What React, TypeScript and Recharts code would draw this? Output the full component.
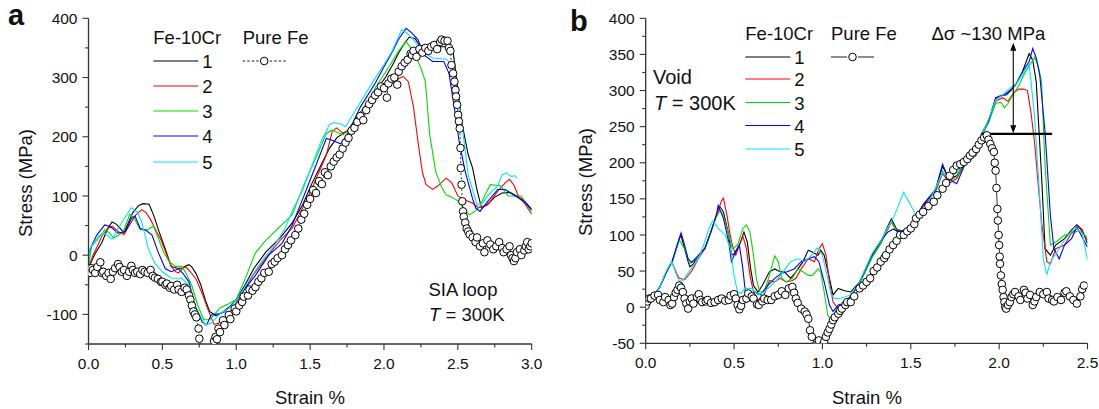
import { LineChart, Line, XAxis, YAxis, ReferenceLine, ReferenceDot } from "recharts";

type Pt = [number, number];

// ---- panel a : SIA loop, strain % vs stress (MPa) ----
const aFeCr1: Pt[] = [[0,-25],[0.02,-10],[0.05,5],[0.09,21],[0.13,45],[0.16,56],[0.19,52],[0.24,38],[0.27,55],[0.30,72],[0.34,84],[0.37,87],[0.41,86],[0.44,68],[0.48,38],[0.52,10],[0.56,-19],[0.60,-22],[0.63,-22],[0.66,-18],[0.68,-16],[0.70,-20],[0.73,-32],[0.76,-50],[0.79,-75],[0.82,-95],[0.86,-102],[0.90,-98],[0.95,-88],[1.0,-75],[1.06,-50],[1.12,-22],[1.2,5],[1.3,30],[1.38,55],[1.45,85],[1.51,120],[1.57,150],[1.63,180],[1.68,198],[1.72,205],[1.76,210],[1.82,232],[1.89,258],[1.95,280],[2.01,300],[2.06,322],[2.10,342],[2.14,358],[2.17,368],[2.21,366],[2.24,355],[2.28,352],[2.33,350],[2.38,352],[2.43,352],[2.47,340],[2.50,280],[2.53,220],[2.57,170],[2.60,147],[2.63,110],[2.66,80],[2.70,85],[2.75,98],[2.80,105],[2.85,106],[2.90,100],[2.95,92],[3.0,77]];
const aFeCr2: Pt[] = [[0,-22],[0.03,0],[0.06,15],[0.09,32],[0.13,45],[0.16,49],[0.20,40],[0.24,35],[0.28,52],[0.32,68],[0.36,77],[0.39,72],[0.42,60],[0.46,40],[0.49,26],[0.53,0],[0.56,-19],[0.59,-28],[0.61,-30],[0.64,-22],[0.66,-20],[0.69,-28],[0.73,-41],[0.77,-65],[0.80,-86],[0.83,-105],[0.85,-117],[0.88,-115],[0.92,-106],[0.96,-95],[1.0,-81],[1.05,-60],[1.11,-35],[1.2,-5],[1.3,26],[1.378,45],[1.45,80],[1.513,113],[1.61,169],[1.65,209],[1.68,215],[1.72,206],[1.75,210],[1.81,230],[1.87,252],[1.94,272],[2.0,290],[2.056,290],[2.10,298],[2.13,302],[2.165,293],[2.20,250],[2.23,192],[2.26,140],[2.285,119],[2.33,111],[2.37,118],[2.42,130],[2.46,122],[2.50,100],[2.56,92],[2.60,88],[2.64,80],[2.69,84],[2.72,91],[2.77,108],[2.82,122],[2.85,128],[2.88,118],[2.91,100],[2.95,88],[3.0,69]];
const aFeCr3: Pt[] = [[0,-60],[0.006,-10],[0.02,15],[0.06,26],[0.11,43],[0.14,38],[0.17,29],[0.21,35],[0.24,43],[0.28,69],[0.31,62],[0.35,43],[0.40,43],[0.44,49],[0.47,30],[0.51,4],[0.55,-12],[0.59,-19],[0.63,-19],[0.66,-30],[0.70,-52],[0.74,-85],[0.78,-109],[0.82,-109],[0.86,-98],[0.89,-89],[0.95,-82],[1.0,-75],[1.06,-40],[1.13,4],[1.2,25],[1.3,49],[1.378,68],[1.46,120],[1.54,165],[1.61,206],[1.65,211],[1.68,208],[1.72,203],[1.76,210],[1.83,237],[1.89,258],[1.94,282],[2.0,305],[2.056,327],[2.10,345],[2.15,361],[2.18,350],[2.21,338],[2.25,316],[2.28,293],[2.31,203],[2.35,141],[2.39,115],[2.42,102],[2.46,98],[2.51,90],[2.55,75],[2.58,68],[2.62,75],[2.65,83],[2.69,105],[2.72,119],[2.76,118],[2.79,117],[2.84,100],[2.88,100],[2.93,100],[3.0,72]];
const aFeCr4: Pt[] = [[0,0],[0.02,15],[0.056,34],[0.11,51],[0.15,48],[0.2,37],[0.25,40],[0.29,62],[0.315,66],[0.35,45],[0.39,42],[0.43,34],[0.47,6],[0.52,-23],[0.56,-28],[0.61,-23],[0.64,-31],[0.68,-45],[0.72,-85],[0.77,-113],[0.8,-118],[0.83,-101],[0.88,-99],[0.92,-96],[0.99,-79],[1.06,-56],[1.13,-34],[1.22,0],[1.31,20],[1.378,50],[1.45,95],[1.513,135],[1.61,197],[1.65,194],[1.706,188],[1.75,203],[1.84,250],[1.94,290],[2.0,318],[2.06,345],[2.10,365],[2.15,383],[2.19,375],[2.23,364],[2.27,338],[2.33,327],[2.405,327],[2.44,307],[2.48,243],[2.51,190],[2.55,141],[2.6,95],[2.62,80],[2.65,74],[2.7,90],[2.77,111],[2.82,111],[2.89,100],[2.95,90],[3.0,77]];
const aFeCr5: Pt[] = [[0,-35],[0.005,0],[0.01,11],[0.07,33],[0.11,37],[0.16,27],[0.20,45],[0.25,65],[0.29,80],[0.33,73],[0.36,56],[0.405,11],[0.45,-14],[0.50,-28],[0.56,-39],[0.63,-39],[0.68,-51],[0.73,-90],[0.79,-118],[0.83,-115],[0.89,-99],[0.95,-90],[1.01,-73],[1.08,-45],[1.17,-11],[1.26,17],[1.33,45],[1.378,74],[1.45,110],[1.513,152],[1.57,190],[1.63,220],[1.66,224],[1.706,222],[1.74,217],[1.83,254],[1.94,299],[2.0,322],[2.056,345],[2.12,381],[2.15,376],[2.19,367],[2.26,344],[2.33,333],[2.42,331],[2.44,327],[2.48,302],[2.52,237],[2.57,136],[2.63,85],[2.67,88],[2.70,100],[2.77,117],[2.80,136],[2.83,139],[2.86,133],[2.89,134],[2.9,130]];
const aPureFe: Pt[] = [[0,-28],[0.005,-22],[0.01,-30],[0.02,-22],[0.03,-25],[0.045,-30],[0.06,-20],[0.08,-12],[0.09,-30],[0.1,-28],[0.12,-35],[0.135,-30],[0.15,-40],[0.165,-28],[0.18,-22],[0.2,-15],[0.21,-20],[0.225,-28],[0.24,-25],[0.26,-35],[0.275,-28],[0.29,-18],[0.3,-25],[0.315,-30],[0.33,-28],[0.35,-32],[0.365,-25],[0.38,-28],[0.4,-30],[0.42,-25],[0.435,-35],[0.45,-38],[0.47,-40],[0.49,-45],[0.5,-45],[0.52,-50],[0.53,-48],[0.55,-55],[0.56,-52],[0.58,-58],[0.6,-50],[0.61,-58],[0.63,-62],[0.65,-55],[0.665,-58],[0.68,-68],[0.69,-75],[0.7,-85],[0.71,-95],[0.72,-100],[0.73,-105],[0.745,-124],[0.75,-141],[0.78,-165],[0.81,-175],[0.83,-160],[0.85,-145],[0.86,-138],[0.87,-142],[0.88,-124],[0.89,-130],[0.91,-110],[0.92,-118],[0.95,-101],[0.96,-108],[0.99,-90],[1.0,-95],[1.02,-85],[1.04,-79],[1.05,-70],[1.08,-68],[1.09,-58],[1.11,-60],[1.13,-54],[1.15,-45],[1.17,-39],[1.19,-30],[1.22,-28],[1.24,-15],[1.26,-11],[1.28,-5],[1.31,0],[1.33,10],[1.35,17],[1.37,25],[1.4,34],[1.42,45],[1.44,60],[1.46,70],[1.48,85],[1.5,95],[1.52,110],[1.54,105],[1.56,125],[1.58,120],[1.6,140],[1.62,135],[1.64,150],[1.66,158],[1.68,165],[1.7,170],[1.72,180],[1.74,190],[1.76,198],[1.78,210],[1.8,215],[1.82,225],[1.84,235],[1.86,228],[1.88,245],[1.9,255],[1.92,262],[1.94,270],[1.96,275],[1.98,285],[2.0,282],[2.02,266],[2.03,290],[2.05,298],[2.07,300],[2.09,288],[2.1,310],[2.12,319],[2.14,325],[2.16,330],[2.18,340],[2.19,338],[2.2,345],[2.22,335],[2.24,348],[2.26,342],[2.28,350],[2.3,345],[2.32,352],[2.34,355],[2.36,348],[2.38,360],[2.39,364],[2.41,362],[2.43,362],[2.44,350],[2.45,345],[2.457,321],[2.468,307],[2.477,293],[2.484,279],[2.488,268],[2.495,254],[2.502,237],[2.507,226],[2.513,214],[2.518,181],[2.52,147],[2.525,119],[2.53,91],[2.535,74],[2.54,65],[2.55,55],[2.56,45],[2.57,40],[2.58,35],[2.6,30],[2.62,22],[2.63,30],[2.65,15],[2.67,20],[2.68,5],[2.7,25],[2.72,18],[2.74,10],[2.76,15],[2.78,22],[2.8,12],[2.81,5],[2.83,10],[2.85,15],[2.86,0],[2.87,-5],[2.88,-10],[2.89,-5],[2.9,5],[2.92,10],[2.93,0],[2.95,8],[2.96,15],[2.97,22],[2.98,10],[2.99,15],[3.0,20]];

// ---- panel b : void ----
const bFeCr1: Pt[] = [[0,0],[0.04,15],[0.08,28],[0.12,50],[0.15,63],[0.17,78],[0.19,95],[0.20,99],[0.22,81],[0.24,63],[0.25,56],[0.27,60],[0.30,72],[0.335,81],[0.37,105],[0.40,127],[0.42,139],[0.44,132],[0.47,100],[0.485,72],[0.50,74],[0.53,86],[0.556,104],[0.575,90],[0.594,53],[0.61,30],[0.635,21],[0.66,30],[0.70,49],[0.73,53],[0.76,49],[0.785,49],[0.82,40],[0.85,49],[0.89,63],[0.92,79],[0.945,76],[0.975,72],[0.99,79],[1.01,72],[1.04,40],[1.06,17],[1.09,26],[1.12,23],[1.16,21],[1.21,35],[1.28,72],[1.33,90],[1.37,112],[1.39,122],[1.42,108],[1.45,105],[1.5,112],[1.57,141],[1.64,162],[1.68,195],[1.70,185],[1.72,178],[1.76,182],[1.81,201],[1.87,212],[1.90,238],[1.94,256],[1.98,288],[2.01,292],[2.04,296],[2.07,302],[2.10,310],[2.13,325],[2.17,351],[2.19,342],[2.21,312],[2.24,182],[2.26,81],[2.29,72],[2.32,86],[2.37,95],[2.41,107],[2.44,114],[2.47,107],[2.5,88]];
const bFeCr2: Pt[] = [[0,0],[0.04,15],[0.08,28],[0.12,50],[0.147,63],[0.175,47],[0.19,40],[0.22,38],[0.26,50],[0.30,68],[0.335,81],[0.37,105],[0.40,127],[0.43,148],[0.44,151],[0.46,127],[0.475,104],[0.49,86],[0.51,72],[0.53,86],[0.55,98],[0.57,81],[0.59,44],[0.61,21],[0.635,10],[0.67,17],[0.70,37],[0.73,35],[0.76,40],[0.795,35],[0.83,37],[0.85,40],[0.88,53],[0.92,67],[0.955,63],[0.98,81],[1.0,88],[1.02,72],[1.04,35],[1.06,7],[1.09,-2],[1.12,5],[1.16,15],[1.21,33],[1.28,70],[1.33,88],[1.37,108],[1.39,118],[1.42,105],[1.45,103],[1.5,110],[1.57,140],[1.64,160],[1.68,185],[1.72,172],[1.76,178],[1.81,200],[1.87,210],[1.90,235],[1.94,258],[1.98,285],[2.02,290],[2.05,285],[2.08,296],[2.11,302],[2.14,302],[2.16,300],[2.18,270],[2.20,229],[2.22,173],[2.24,118],[2.27,63],[2.29,60],[2.32,81],[2.37,86],[2.41,103],[2.45,111],[2.5,93]];
const bFeCr3: Pt[] = [[0,-4],[0.04,15],[0.08,28],[0.12,50],[0.15,63],[0.19,93],[0.22,81],[0.25,60],[0.28,66],[0.335,81],[0.37,105],[0.40,125],[0.42,134],[0.44,127],[0.47,100],[0.49,81],[0.52,86],[0.55,109],[0.57,114],[0.59,104],[0.61,72],[0.626,40],[0.645,21],[0.67,21],[0.70,44],[0.73,71],[0.75,63],[0.77,40],[0.795,35],[0.83,40],[0.86,53],[0.89,49],[0.92,44],[0.945,44],[0.975,53],[0.99,49],[1.01,21],[1.03,-11],[1.05,-18],[1.07,-11],[1.10,0],[1.14,10],[1.21,32],[1.28,68],[1.33,88],[1.37,110],[1.39,118],[1.42,106],[1.45,104],[1.5,110],[1.57,142],[1.64,162],[1.68,188],[1.72,175],[1.76,180],[1.81,203],[1.87,210],[1.90,236],[1.94,256],[1.98,282],[2.01,284],[2.03,276],[2.05,282],[2.08,295],[2.11,306],[2.14,322],[2.17,334],[2.20,346],[2.22,335],[2.24,312],[2.26,196],[2.29,86],[2.32,90],[2.37,100],[2.41,102],[2.45,106],[2.5,97]];
const bFeCr4: Pt[] = [[0,-4],[0.04,15],[0.08,28],[0.12,50],[0.15,64],[0.18,88],[0.20,103],[0.22,86],[0.24,67],[0.26,62],[0.30,72],[0.335,82],[0.37,105],[0.40,128],[0.41,141],[0.44,123],[0.47,90],[0.485,63],[0.50,72],[0.52,81],[0.53,86],[0.55,53],[0.57,7],[0.59,10],[0.62,21],[0.65,17],[0.69,30],[0.73,40],[0.77,47],[0.80,49],[0.84,53],[0.88,63],[0.92,67],[0.955,70],[0.98,63],[1.01,35],[1.04,3],[1.06,-6],[1.09,3],[1.12,5],[1.16,15],[1.21,34],[1.28,72],[1.33,92],[1.37,104],[1.40,108],[1.44,104],[1.50,112],[1.57,142],[1.64,163],[1.68,198],[1.70,186],[1.73,175],[1.76,171],[1.81,200],[1.87,212],[1.90,240],[1.94,258],[1.98,290],[2.01,293],[2.04,294],[2.07,301],[2.10,311],[2.13,325],[2.17,340],[2.19,358],[2.21,345],[2.23,321],[2.26,242],[2.29,127],[2.31,81],[2.34,67],[2.37,86],[2.41,95],[2.44,111],[2.5,83]];
const bFeCr5: Pt[] = [[0,-2],[0.04,15],[0.08,28],[0.12,52],[0.147,63],[0.175,45],[0.19,36],[0.21,37],[0.25,51],[0.30,68],[0.33,88],[0.36,110],[0.38,120],[0.41,109],[0.45,100],[0.48,81],[0.50,44],[0.52,21],[0.54,19],[0.56,26],[0.60,26],[0.635,17],[0.67,21],[0.71,30],[0.75,40],[0.79,53],[0.82,63],[0.86,67],[0.90,63],[0.94,72],[0.97,82],[1.0,72],[1.03,40],[1.05,17],[1.07,12],[1.10,12],[1.16,17],[1.21,35],[1.28,74],[1.33,92],[1.37,110],[1.40,123],[1.43,141],[1.46,159],[1.50,141],[1.53,127],[1.56,123],[1.64,165],[1.68,186],[1.72,180],[1.76,186],[1.81,203],[1.87,213],[1.90,238],[1.94,260],[1.98,287],[2.02,294],[2.06,303],[2.10,310],[2.13,322],[2.17,337],[2.20,265],[2.23,150],[2.25,67],[2.27,45],[2.29,63],[2.34,81],[2.37,93],[2.43,111],[2.47,102],[2.5,65]];
const bPureFe: Pt[] = [[0,2],[0.01,8],[0.02,12],[0.03,12],[0.05,16],[0.07,17],[0.08,10],[0.10,7],[0.11,14],[0.13,10],[0.14,3],[0.15,5],[0.16,14],[0.17,20],[0.18,24],[0.19,30],[0.20,27],[0.21,21],[0.22,12],[0.23,5],[0.24,-2],[0.25,8],[0.26,12],[0.27,5],[0.29,14],[0.30,18],[0.31,10],[0.32,7],[0.34,8],[0.35,10],[0.37,6],[0.39,7],[0.41,10],[0.43,12],[0.45,9],[0.47,10],[0.48,16],[0.50,18],[0.51,12],[0.52,3],[0.53,-3],[0.54,2],[0.55,10],[0.57,12],[0.58,19],[0.60,15],[0.61,12],[0.63,4],[0.64,3],[0.66,8],[0.67,12],[0.69,10],[0.71,10],[0.73,15],[0.75,17],[0.77,22],[0.79,17],[0.81,26],[0.83,28],[0.84,20],[0.85,12],[0.86,6],[0.88,-2],[0.90,-6],[0.91,-10],[0.92,-16],[0.93,-32],[0.94,-41],[0.96,-53],[0.98,-46],[1.0,-53],[1.01,-48],[1.02,-41],[1.03,-35],[1.04,-30],[1.05,-24],[1.06,-18],[1.07,-14],[1.09,-9],[1.10,-5],[1.11,-2],[1.13,3],[1.14,7],[1.16,7],[1.18,15],[1.21,26],[1.23,30],[1.25,35],[1.27,40],[1.29,50],[1.31,55],[1.33,63],[1.35,68],[1.36,72],[1.38,80],[1.40,86],[1.42,92],[1.44,100],[1.46,100],[1.48,105],[1.50,109],[1.52,115],[1.53,123],[1.55,128],[1.57,132],[1.60,140],[1.63,146],[1.65,155],[1.68,164],[1.70,172],[1.72,182],[1.74,190],[1.76,196],[1.78,198],[1.80,201],[1.82,205],[1.835,210],[1.85,214],[1.87,219],[1.885,225],[1.90,231],[1.915,235],[1.93,238],[1.94,232],[1.95,226],[1.96,220],[1.97,215],[1.975,200],[1.98,189],[1.985,165],[1.99,136],[1.993,120],[1.997,100],[2.0,86],[2.003,70],[2.005,60],[2.01,44],[2.015,32],[2.02,24],[2.025,14],[2.03,7],[2.035,0],[2.04,-2],[2.05,3],[2.06,7],[2.07,14],[2.08,18],[2.09,21],[2.11,15],[2.12,10],[2.14,24],[2.15,20],[2.16,12],[2.175,17],[2.19,3],[2.20,8],[2.21,14],[2.23,21],[2.25,18],[2.27,21],[2.28,12],[2.30,10],[2.31,8],[2.33,14],[2.35,10],[2.37,20],[2.38,22],[2.40,15],[2.42,10],[2.44,5],[2.46,15],[2.47,25],[2.48,30]];

const aTicksX = [0, 0.25, 0.5, 0.75, 1, 1.25, 1.5, 1.75, 2, 2.25, 2.5, 2.75, 3];
const aTicksY = [-150, -100, -50, 0, 50, 100, 150, 200, 250, 300, 350, 400];
const bTicksX = [0, 0.25, 0.5, 0.75, 1, 1.25, 1.5, 1.75, 2, 2.25, 2.5];
const bTicksY = [-50, -25, 0, 25, 50, 75, 100, 125, 150, 175, 200, 225, 250, 275, 300, 325, 350, 375, 400];

const legendNames = ["1", "2", "3", "4", "5"];
const colors = ["#000000", "#ff0000", "#00dd00", "#0000ff", "#00e5ff"];

// Δσ marker in panel b
const gapLevel = 240;
const gapStrain = [1.9, 2.3];
const arrowStrain = 2.08;
const arrowTop = 366;

const FONT = "'Liberation Sans', Arial, Helvetica, sans-serif";
const AXIS = "#333";
const TXT = "#111";

const rows = (pts: Pt[]) => pts.map(([strain, stress]) => ({ strain, stress }));

const majorX = (v: number) => Math.abs(v * 2 - Math.round(v * 2)) < 1e-6;

const bottomTick = (p: any) => {
  const m = majorX(p.payload.value);
  return (
    <g>
      <line x1={p.x} x2={p.x} y1={p.y} y2={p.y + (m ? 6 : 3.5)} stroke={AXIS} strokeWidth={1.1} />
      {m && (
        <text x={p.x} y={p.y + 24.5} textAnchor="middle" fontSize={15.5} fontFamily={FONT} fill={TXT}>
          {p.payload.value.toFixed(1)}
        </text>
      )}
    </g>
  );
};
const topTick = (p: any) => {
  const m = majorX(p.payload.value);
  return <line x1={p.x} x2={p.x} y1={p.y} y2={p.y + (m ? 6 : 3.5)} stroke={AXIS} strokeWidth={1.1} />;
};
const leftTick = (step: number) => (p: any) => {
  const m = p.payload.value % step === 0;
  return (
    <g>
      <line x1={p.x} x2={p.x - (m ? 6 : 3.5)} y1={p.y} y2={p.y} stroke={AXIS} strokeWidth={1.1} />
      {m && (
        <text x={p.x - 11} y={p.y} dy="0.36em" textAnchor="end" fontSize={15.5} fontFamily={FONT} fill={TXT}>
          {String(p.payload.value)}
        </text>
      )}
    </g>
  );
};
const rightTick = (step: number) => (p: any) => {
  const m = p.payload.value % step === 0;
  return <line x1={p.x} x2={p.x - (m ? 6 : 3.5)} y1={p.y} y2={p.y} stroke={AXIS} strokeWidth={1.1} />;
};

const axisLine = { stroke: AXIS, strokeWidth: 1.3 };

function Panel(props: {
  width: number;
  yAxisWidth: number;
  right: number;
  xAxisHeight: number;
  xMax: number;
  yDomain: [number, number];
  ticksX: number[];
  ticksY: number[];
  yStep: number;
  series: Pt[][];
  pure: Pt[];
  pureDash?: string;
  extra?: boolean;
}) {
  const { width, yAxisWidth, right, xAxisHeight, xMax, yDomain, ticksX, ticksY, yStep, series, pure, pureDash, extra } = props;
  return (
    <LineChart width={width} height={409} margin={{ top: 18.3, right, bottom: 0, left: 0 }}>
      <XAxis xAxisId="b" dataKey="strain" type="number" domain={[0, xMax]} ticks={ticksX} interval={0}
        allowDataOverflow tickLine={false} tickSize={0} tickMargin={0} height={xAxisHeight} axisLine={axisLine} tick={bottomTick} />
      <XAxis xAxisId="t" orientation="top" dataKey="strain" type="number" domain={[0, xMax]} ticks={ticksX} interval={0}
        allowDataOverflow tickLine={false} tickSize={0} tickMargin={0} height={0} axisLine={axisLine} tick={topTick} />
      <YAxis yAxisId="l" type="number" domain={yDomain} ticks={ticksY} interval={0} allowDataOverflow
        tickLine={false} tickSize={0} tickMargin={0} width={yAxisWidth} axisLine={axisLine} tick={leftTick(yStep)} />
      <YAxis yAxisId="r" orientation="right" type="number" domain={yDomain} ticks={ticksY} interval={0} allowDataOverflow
        tickLine={false} tickSize={0} tickMargin={0} width={0} axisLine={axisLine} tick={rightTick(yStep)} />
      {series.map((s, i) => (
        <Line key={i} xAxisId="b" yAxisId="l" data={rows(s)} dataKey="stress" type="linear" stroke={colors[i]}
          strokeWidth={1.1} dot={false} activeDot={false} isAnimationActive={false} />
      ))}
      {extra && (
        <ReferenceLine xAxisId="b" yAxisId="l" segment={[{ x: gapStrain[0], y: gapLevel }, { x: gapStrain[1], y: gapLevel }]}
          stroke="#000" strokeWidth={2.4} />
      )}
      {extra && (
        <ReferenceLine xAxisId="b" yAxisId="l" segment={[{ x: arrowStrain, y: gapLevel + 4 }, { x: arrowStrain, y: arrowTop - 4 }]}
          stroke="#000" strokeWidth={1.1} />
      )}
      {extra && (
        <ReferenceDot xAxisId="b" yAxisId="l" x={arrowStrain} y={arrowTop}
          shape={(p: any) => <path d={`M${p.cx},${p.cy} l-3,8 l6,0 z`} fill="#000" />} />
      )}
      {extra && (
        <ReferenceDot xAxisId="b" yAxisId="l" x={arrowStrain} y={gapLevel + 1}
          shape={(p: any) => <path d={`M${p.cx},${p.cy} l-3,-8 l6,0 z`} fill="#000" />} />
      )}
      <Line xAxisId="b" yAxisId="l" data={rows(pure)} dataKey="stress" type="linear" stroke="#000" strokeWidth={0.8}
        strokeDasharray={pureDash}
        dot={{ r: 3.8, fill: "#fff", stroke: "#000", strokeWidth: 1, strokeDasharray: "none" }} activeDot={false}
        isAnimationActive={false} />
    </LineChart>
  );
}

function LegendBlock(props: { x: number; px: number; top: number; rowY: number[]; dashed: boolean; fs: number }) {
  const { x, px, top, rowY, dashed, fs } = props;
  return (
    <g fontFamily={FONT} fill={TXT} fontSize={fs}>
      <text x={x} y={top}>Fe-10Cr</text>
      {legendNames.map((n, i) => (
        <g key={n}>
          <line x1={x} x2={x + 45} y1={rowY[i]} y2={rowY[i]} stroke={colors[i]} strokeWidth={1.2} />
          <text x={x + 49} y={rowY[i] + 7}>{n}</text>
        </g>
      ))}
      <text x={px} y={top}>Pure Fe</text>
      <line x1={px} x2={px + 16} y1={rowY[0]} y2={rowY[0]} stroke="#000" strokeWidth={0.9} strokeDasharray={dashed ? "2.5 2" : undefined} />
      <line x1={px + 27} x2={px + 43} y1={rowY[0]} y2={rowY[0]} stroke="#000" strokeWidth={0.9} strokeDasharray={dashed ? "2.5 2" : undefined} />
      <circle cx={px + 21.5} cy={rowY[0]} r={3.8} fill="#fff" stroke="#000" strokeWidth={1} />
    </g>
  );
}

export default function App() {
  return (
    <div style={{ position: "fixed", left: 0, top: 0, width: 1099, height: 409, background: "#fff" }}>
      <div style={{ position: "absolute", left: 0, top: 0 }}>
        <Panel width={550} yAxisWidth={88.5} right={18.3} xAxisHeight={65} xMax={3} yDomain={[-150, 400]}
          ticksX={aTicksX} ticksY={aTicksY} yStep={100}
          series={[aFeCr1, aFeCr2, aFeCr3, aFeCr4, aFeCr5]} pure={aPureFe} pureDash="2 2" />
      </div>
      <div style={{ position: "absolute", left: 550, top: 0 }}>
        <Panel width={549} yAxisWidth={95.7} right={11.5} xAxisHeight={65.7} xMax={2.5} yDomain={[-50, 400]}
          ticksX={bTicksX} ticksY={bTicksY} yStep={50}
          series={[bFeCr1, bFeCr2, bFeCr3, bFeCr4, bFeCr5]} pure={bPureFe} extra />
      </div>
      <svg width={1099} height={409} style={{ position: "absolute", left: 0, top: 0, pointerEvents: "none" }}>
        <g fontFamily={FONT} fill={TXT}>
          <text x={8} y={25} fontSize={29} fontWeight="bold">a</text>
          <text x={570} y={31} fontSize={29} fontWeight="bold">b</text>
          <text transform="translate(31.5,183) rotate(-90)" textAnchor="middle" fontSize={18.5}>Stress (MPa)</text>
          <text transform="translate(591.5,182) rotate(-90)" textAnchor="middle" fontSize={18.5}>Stress (MPa)</text>
          <text x={310} y={404} textAnchor="middle" fontSize={18.5}>Strain %</text>
          <text x={867} y={403.5} textAnchor="middle" fontSize={18.5}>Strain %</text>
          <text x={428.5} y={296} fontSize={18.5}>SIA loop</text>
          <text x={429} y={321} fontSize={18.5}><tspan fontStyle="italic">T</tspan> = 300K</text>
          <text x={653} y={84} fontSize={20}>Void</text>
          <text x={654} y={110} fontSize={20}><tspan fontStyle="italic">T</tspan> = 300K</text>
          <text x={931.5} y={40} fontSize={18.5}>Δσ ~130 MPa</text>
        </g>
        <LegendBlock x={153.3} px={242.7} top={43.5} rowY={[61, 86, 111, 136, 162]} dashed fs={18.5} />
        <LegendBlock x={745.3} px={831} top={39.5} rowY={[57, 79, 102.5, 125.5, 149]} dashed={false} fs={18.5} />
      </svg>
    </div>
  );
}
